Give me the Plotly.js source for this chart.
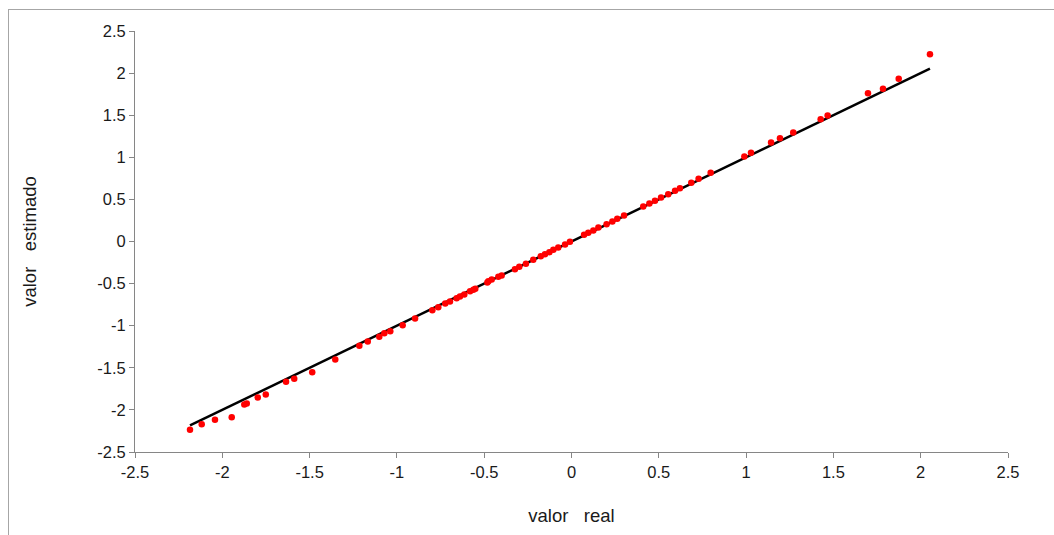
<!DOCTYPE html>
<html>
<head>
<meta charset="utf-8">
<script src="https://cdn.plot.ly/plotly-3.0.1.min.js"></script>
<style>
  html, body { margin: 0; padding: 0; background: #fff; }
  #wrap { position: relative; width: 1054px; height: 535px; overflow: hidden; }
  #chart { position: absolute; left: 0; top: 0; width: 1054px; height: 535px; }
  #frame { position: absolute; left: 8px; top: 9px; width: 1100px; height: 600px;
           border: 1px solid #a6a6a6; pointer-events: none; }
</style>
</head>
<body>
<div id="wrap">
  <div id="chart"></div>
  <div id="frame"></div>
</div>
<script>
// valor real (x) and valor estimado (y)
var realValues = [
  -2.185, -2.118, -2.042, -1.946, -1.874, -1.860, -1.797, -1.751, -1.635, -1.588,
  -1.485, -1.353, -1.215, -1.167, -1.101, -1.072, -1.038, -0.967, -0.896, -0.797,
  -0.763, -0.723, -0.696, -0.658, -0.639, -0.614, -0.581, -0.562, -0.551, -0.482,
  -0.476, -0.457, -0.419, -0.400, -0.324, -0.299, -0.261, -0.219, -0.176, -0.152,
  -0.127, -0.104, -0.076, -0.037, -0.009, 0.072, 0.096, 0.125, 0.154, 0.201,
  0.234, 0.262, 0.301, 0.411, 0.446, 0.478, 0.513, 0.554, 0.593, 0.621,
  0.686, 0.728, 0.797, 0.990, 1.028, 1.143, 1.194, 1.270, 1.427, 1.467,
  1.698, 1.784, 1.874, 2.053
];
var estimatedValues = [
  -2.236, -2.170, -2.118, -2.086, -1.936, -1.924, -1.853, -1.817, -1.666, -1.631,
  -1.552, -1.401, -1.239, -1.188, -1.132, -1.089, -1.065, -0.994, -0.915, -0.816,
  -0.780, -0.736, -0.713, -0.673, -0.653, -0.629, -0.590, -0.574, -0.562, -0.487,
  -0.471, -0.451, -0.419, -0.404, -0.329, -0.300, -0.265, -0.217, -0.175, -0.151,
  -0.127, -0.099, -0.071, -0.036, -0.004, 0.080, 0.103, 0.131, 0.166, 0.205,
  0.238, 0.270, 0.309, 0.416, 0.451, 0.483, 0.523, 0.562, 0.602, 0.633,
  0.697, 0.745, 0.816, 1.010, 1.053, 1.176, 1.227, 1.295, 1.453, 1.496,
  1.761, 1.813, 1.932, 2.225
];
// reference line y = x between the smallest and largest real values
var lineX = [-2.185, 2.053];
var lineY = [-2.185, 2.053];

var tickValues = [-2.5, -2, -1.5, -1, -0.5, 0, 0.5, 1, 1.5, 2, 2.5];
var tickLabels = ["-2.5", "-2", "-1.5", "-1", "-0.5", "0", "0.5", "1", "1.5", "2", "2.5"];

var xTitle = "valor\u00a0\u00a0\u00a0real";
var yTitle = "valor\u00a0\u00a0\u00a0estimado";

var traces = [
  {
    x: lineX, y: lineY, type: 'scatter', mode: 'lines',
    line: { color: '#000000', width: 2.5 }, hoverinfo: 'skip'
  },
  {
    x: realValues, y: estimatedValues, type: 'scatter', mode: 'markers',
    marker: { color: '#ff0000', size: 6.5, line: { width: 0 } }
  }
];

var fontFam = "'Liberation Sans', Arial, sans-serif";
var axisCommon = {
  range: [-2.5, 2.5],
  tickmode: 'array',
  tickvals: tickValues,
  ticktext: tickLabels,
  showgrid: false,
  zeroline: false,
  showline: true,
  linecolor: '#868686',
  linewidth: 1,
  ticks: 'outside',
  ticklen: 5,
  tickcolor: '#868686',
  tickwidth: 1,
  tickfont: { family: fontFam, size: 16.5, color: '#1a1a1a' },
  fixedrange: true
};

var layout = {
  width: 1054, height: 535,
  margin: { l: 135, r: 46, t: 31, b: 83 },
  paper_bgcolor: 'rgba(0,0,0,0)',
  plot_bgcolor: 'rgba(0,0,0,0)',
  showlegend: false,
  xaxis: Object.assign({}, axisCommon, {
    title: { text: xTitle, font: { family: fontFam, size: 18.5, color: '#1a1a1a' }, standoff: 29 }
  }),
  yaxis: Object.assign({}, axisCommon, {
    title: { text: yTitle, font: { family: fontFam, size: 18.5, color: '#1a1a1a' }, standoff: 55 }
  })
};

Plotly.newPlot('chart', traces, layout, { displayModeBar: false, staticPlot: true });
</script>
</body>
</html>
